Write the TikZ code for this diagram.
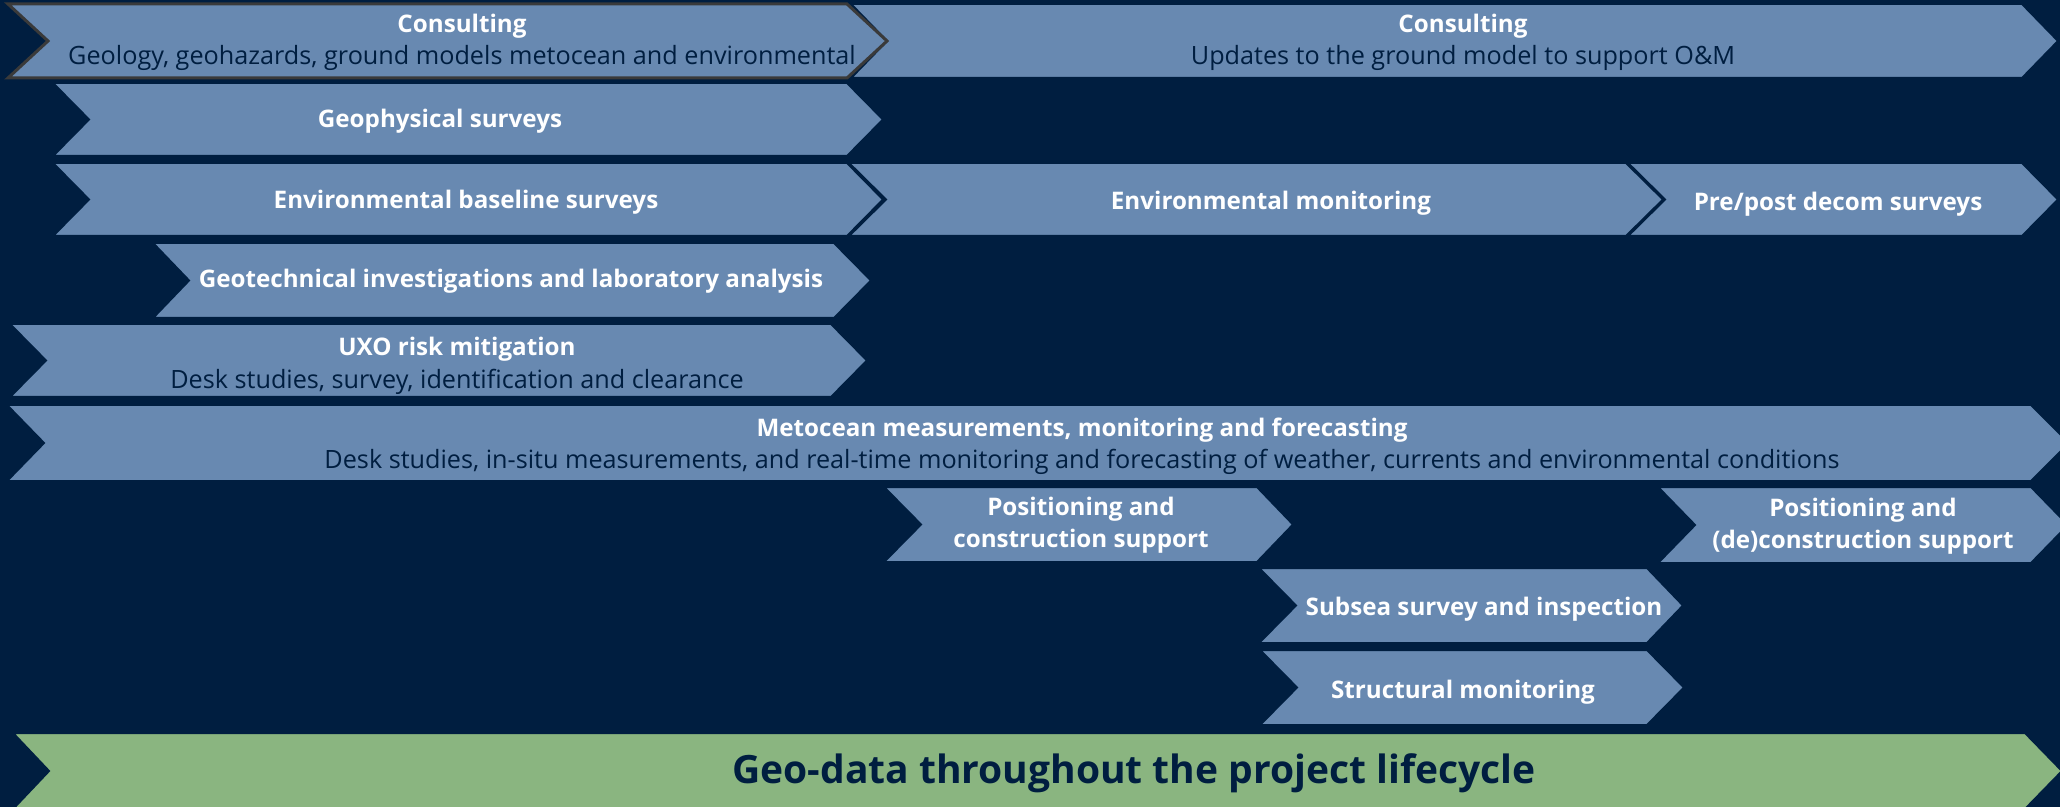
\documentclass[tikz,border=0pt]{standalone}
\usepackage{fontspec}
\setmainfont{Open Sans}
\definecolor{navy}{HTML}{001E40}
\definecolor{steel}{HTML}{6889B1}
\definecolor{sage}{HTML}{8AB580}
\definecolor{rim}{HTML}{3A3A3A}
\begin{document}
\begin{tikzpicture}[x=0.5pt,y=-0.5pt,
 chev/.style={fill=steel,draw=navy,line width=1pt,line join=miter},
 hd/.style={anchor=base,inner sep=0pt,text=white,font=\bfseries\fontsize{12.1}{15}\selectfont},
 sub/.style={anchor=base,inner sep=0pt,text=navy,font=\fontsize{12.6}{15}\selectfont},
 big/.style={anchor=base,inner sep=0pt,text=navy,font=\bfseries\fontsize{19.5}{24}\selectfont}]
 \useasboundingbox (0,0) rectangle (2060,807);
 \fill[navy] (0,0) rectangle (2060,807);
 \clip (0,0) rectangle (2060,807);
 % chevrons, back to front
 \draw[chev](851,4)--(2022,4)--(2058,41)--(2022,78)--(851,78)--(887,41)--cycle;
 \draw[chev,draw=rim,line width=1.5pt](8,4)--(847,4)--(887,41)--(847,78)--(8,78)--(48,41)--cycle;
 \draw[chev](53,83)--(847,83)--(883,119.5)--(847,156)--(53,156)--(89,119.5)--cycle;
 \draw[chev](53,163)--(847,163)--(883,199.5)--(847,236)--(53,236)--(89,199.5)--cycle;
 \draw[chev](849,163)--(1626,163)--(1663,199.5)--(1626,236)--(849,236)--(886,199.5)--cycle;
 \draw[chev](1628,163)--(2022,163)--(2058,199.5)--(2022,236)--(1628,236)--(1665,199.5)--cycle;
 \draw[chev](153,243)--(834,243)--(871,280.5)--(834,318)--(153,318)--(189,280.5)--cycle;
 \draw[chev](10,324)--(831,324)--(867,360.5)--(831,397)--(10,397)--(46,360.5)--cycle;
 \draw[chev](7,405)--(2031,405)--(2069,443)--(2031,481)--(7,481)--(44,443)--cycle;
 \draw[chev](884,487)--(1257,487)--(1293,524.5)--(1257,562)--(884,562)--(921,524.5)--cycle;
 \draw[chev](1658,487)--(2031,487)--(2068,525)--(2031,563)--(1658,563)--(1695,525)--cycle;
 \draw[chev](1259,568)--(1647,568)--(1683,605.5)--(1647,643)--(1259,643)--(1296,605.5)--cycle;
 \draw[chev](1260,650)--(1647,650)--(1684,687.5)--(1647,725)--(1260,725)--(1297,687.5)--cycle;
 \draw[chev,fill=sage](13,733)--(2025,733)--(2062,771)--(2025,809)--(13,809)--(49,771)--cycle;
 % labels
 \node[hd] (consA-hd) at (462,33) {Consulting};
 \node[sub] (consA-sub) at (462,65) {Geology, geohazards, ground models metocean and environmental};
 \node[hd] (consB-hd) at (1463,33) {Consulting};
 \node[sub] (consB-sub) at (1463,65) {Updates to the ground model to support O\&M};
 \node[hd] (geophys) at (440,128) {Geophysical surveys};
 \node[hd] (envbase) at (466,209) {Environmental baseline surveys};
 \node[hd] (envmon) at (1271,210) {Environmental monitoring};
 \node[hd] (decom) at (1838,211) {Pre/post decom surveys};
 \node[hd] (geotech) at (511,287.5) {Geotechnical investigations and laboratory analysis};
 \node[hd] (uxo-hd) at (457,356) {UXO risk mitigation};
 \node[sub] (uxo-sub) at (457,388) {Desk studies, survey, identification and clearance};
 \node[hd] (metocean-hd) at (1082,437) {Metocean measurements, monitoring and forecasting};
 \node[sub] (metocean-sub) at (1082,468) {Desk studies, in-situ measurements, and real-time monitoring and forecasting of weather, currents and environmental conditions};
 \node[hd] (posA-hd) at (1081,515) {Positioning and};
 \node[hd] (posA-sub) at (1081,547) {construction support};
 \node[hd] (posB-hd) at (1863,516) {Positioning and};
 \node[hd] (posB-sub) at (1863,548) {(de)construction support};
 \node[hd] (subsea) at (1484,615) {Subsea survey and inspection};
 \node[hd] (struct) at (1463,698) {Structural monitoring};
 \node[big] (geodata) at (1134,783) {Geo-data throughout the project lifecycle};
\end{tikzpicture}
\end{document}
